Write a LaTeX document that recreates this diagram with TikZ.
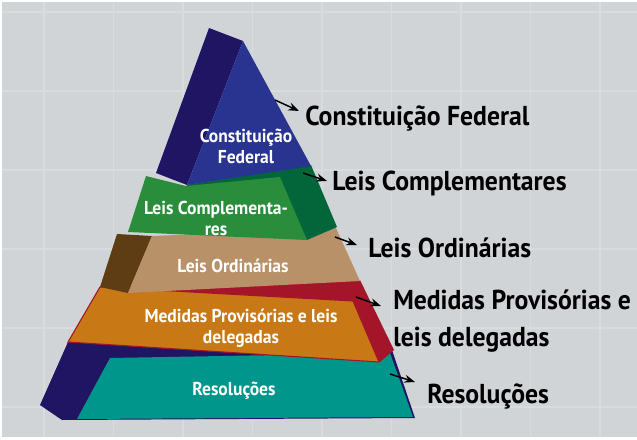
\documentclass[tikz,border=0pt]{standalone}
\usepackage{fontspec}
\newfontfamily\lblfont[FakeStretch=0.94]{PT Sans}
\usetikzlibrary{arrows.meta}

\definecolor{bggrey}{HTML}{D0D4D7}
\definecolor{gridgrey}{HTML}{D7DCDE}
\definecolor{navydark}{HTML}{1F1563}
\definecolor{cfblue}{HTML}{283490}
\definecolor{lcgreen}{HTML}{2A8D3B}
\definecolor{lcdark}{HTML}{02663A}
\definecolor{lobrown}{HTML}{5E3C14}
\definecolor{lotan}{HTML}{B99169}
\definecolor{mporange}{HTML}{C97816}
\definecolor{mpred}{HTML}{A5152A}
\definecolor{rsteal}{HTML}{00968B}

\begin{document}
\begin{tikzpicture}[x=0.75pt, y=-0.75pt,
        % Styles for the texts and the pointers
        outer/.style={anchor=base west, inner sep=0pt, align=left, text=black,
            font=\lblfont\bfseries\fontsize{20.5}{25.5}\selectfont},
        inner/.style={anchor=base, inner sep=0pt, align=center, text=white,
            font=\lblfont\bfseries\fontsize{14}{15.75}\selectfont},
        pointer/.style={-{Stealth[length=8pt, width=6pt]}, line width=1.1pt, black}]

        \useasboundingbox (0,0) rectangle (637,440);

        % 1. Background with its faint grid
        \fill[white] (0,0) rectangle (637,440);
        \fill[bggrey] (2,2) rectangle (637,437);
        \foreach \gx in {44,113.5,...,640} \draw[gridgrey, line width=0.8pt] (\gx,2) -- (\gx,437);
        \foreach \gy in {12,91,...,437} \draw[gridgrey, line width=0.8pt] (2,\gy) -- (637,\gy);

        % 2. Bottom layer: Resolucoes
        \fill[navydark] (68,342) -- (392,350) -- (415,418) -- (62,420) -- (40,405) -- cycle;
        \fill[rsteal] (110,358) -- (390,353) -- (413,417) -- (77,419) -- cycle;

        % 3. Medidas Provisorias
        \fill[mpred] (100,287) -- (360,280) -- (394,350) -- (380,362) -- (68,342) -- cycle;
        \fill[mporange, draw=mpred, line width=0.8pt] (100,287) -- (353,301) -- (379,362) -- (68,342) -- cycle;

        % 4. Leis Ordinarias
        \fill[lobrown] (117,234) -- (152,236) -- (128,293) -- (100,287) -- cycle;
        \fill[lotan] (152,236) -- (336,228) -- (360,281) -- (128,293) -- cycle;

        % 5. Leis Complementares
        \fill[lcdark] (186,185) -- (311,165) -- (337,227) -- (307,240) -- cycle;
        \fill[lcgreen] (146,176) -- (186,186) -- (280,177) -- (307,240) -- (128,232) -- cycle;

        % 6. Top: Constituicao Federal
        \fill[navydark] (209,28) -- (243,41) -- (187,185) -- (156,173) -- cycle;
        \fill[cfblue] (243,41) -- (311,166) -- (187,185) -- cycle;

        % 7. Texts inside the layers (base = last line)
        \node[inner] (cfIn) at (246,163) {Constituição\\Federal};
        \node[inner] (lcIn) at (216,235) {Leis Complementa-\\res};
        \node[inner] (loIn) at (233,272) {Leis Ordinárias};
        \node[inner] (mpIn) at (241,343) {Medidas Provisórias e leis\\delegadas};
        \node[inner] (rsIn) at (234,395) {Resoluções};

        % 8. Texts beside the pyramid
        \node[outer] (cfOut) at (305,125) {Constituição Federal};
        \node[outer] (lcOut) at (332,190) {Leis Complementares};
        \node[outer] (loOut) at (368,257) {Leis Ordinárias};
        \node[outer] (mpOut) at (393,346) {Medidas Provisórias e\\[2pt]leis delegadas};
        \node[outer] (rsOut) at (427,403) {Resoluções};

        % 9. Pointers from the layers to the texts
        \coordinate (cfTail) at (275,100);  \coordinate (cfTip) at (299,111);
        \coordinate (lcTail) at (303,173);  \coordinate (lcTip) at (327,181);
        \coordinate (loTail) at (335,237);  \coordinate (loTip) at (357,245);
        \coordinate (mpTail) at (356,297);  \coordinate (mpTip) at (381,306);
        \coordinate (rsTail) at (390,374);  \coordinate (rsTip) at (415,382);
        \foreach \p in {cf,lc,lo,mp,rs} \draw[pointer] (\p Tail) -- (\p Tip);

    \end{tikzpicture}
\end{document}
